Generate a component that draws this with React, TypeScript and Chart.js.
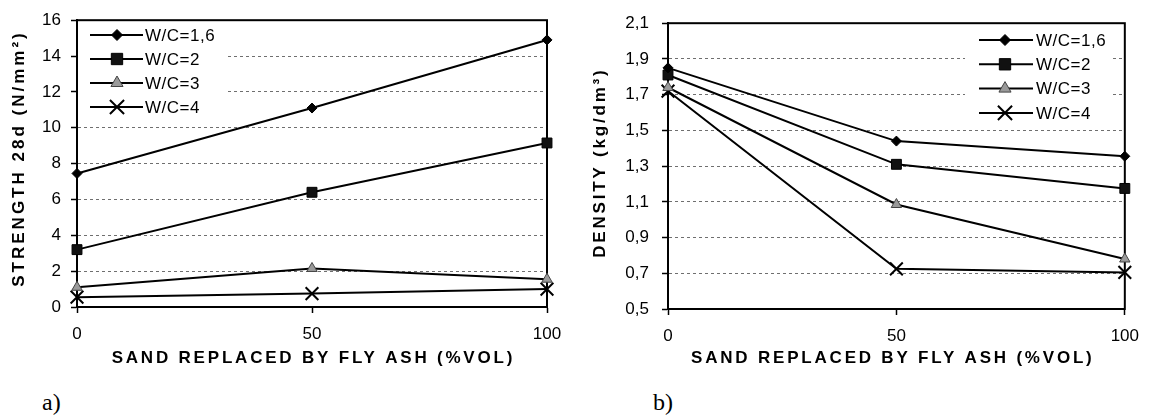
import React, { useEffect, useRef } from 'react';
import { Chart, registerables } from 'chart.js';

Chart.register(...registerables);

// ---------- data ----------
const xValues = [0, 50, 100];
const xTicks = [0, 50, 100];
const seriesLabels = ['W/C=1,6', 'W/C=2', 'W/C=3', 'W/C=4'];

const strength16 = [7.45, 11.1, 14.9];
const strength2 = [3.2, 6.4, 9.15];
const strength3 = [1.1, 2.15, 1.55];
const strength4 = [0.55, 0.75, 1.0];
const strengthTicks = [0, 2, 4, 6, 8, 10, 12, 14, 16];

const density16 = [1.85, 1.44, 1.355];
const density2 = [1.81, 1.31, 1.175];
const density3 = [1.74, 1.085, 0.78];
const density4 = [1.72, 0.725, 0.705];
const densityTicks = [0.5, 0.7, 0.9, 1.1, 1.3, 1.5, 1.7, 1.9, 2.1];

const xTitle = 'SAND REPLACED BY FLY ASH (%VOL)';
const strengthTitle = 'STRENGTH 28d (N/mm²)';
const densityTitle = 'DENSITY (kg/dm³)';

// ---------- styles ----------
const FONT = '"Liberation Sans", Arial, sans-serif';
const markerStyles = ['rectRot', 'rect', 'triangle', 'crossRot'];
const markerRadius = [5, 7, 6, 9];
const legendMarkerRadius = [5.5, 8, 7, 10];
const markerFill = ['#000', '#111', '#9a9a9a', '#000'];
const markerStroke = ['#000', '#000', '#444', '#000'];
const markerLw = [1, 1, 1, 2];

function drawMarker(ctx: CanvasRenderingContext2D, style: string, x: number, y: number, r: number, fill: string, stroke: string, lw: number) {
  ctx.save();
  ctx.beginPath();
  ctx.fillStyle = fill;
  ctx.strokeStyle = stroke;
  ctx.lineWidth = lw;
  if (style === 'rectRot') {
    ctx.moveTo(x - r, y); ctx.lineTo(x, y - r); ctx.lineTo(x + r, y); ctx.lineTo(x, y + r); ctx.closePath();
    ctx.fill(); ctx.stroke();
  } else if (style === 'rect') {
    const s = r * Math.SQRT1_2;
    ctx.rect(x - s, y - s, 2 * s, 2 * s);
    ctx.fill(); ctx.stroke();
  } else if (style === 'triangle') {
    let a = 0;
    ctx.moveTo(x + Math.sin(a) * r, y - Math.cos(a) * r);
    a += (2 * Math.PI) / 3; ctx.lineTo(x + Math.sin(a) * r, y - Math.cos(a) * r);
    a += (2 * Math.PI) / 3; ctx.lineTo(x + Math.sin(a) * r, y - Math.cos(a) * r);
    ctx.closePath();
    ctx.fill(); ctx.stroke();
  } else {
    const o = r * Math.SQRT1_2;
    ctx.moveTo(x - o, y - o); ctx.lineTo(x + o, y + o);
    ctx.moveTo(x - o, y + o); ctx.lineTo(x + o, y - o);
    ctx.stroke();
  }
  ctx.restore();
}

const framePlugin = {
  id: 'frameLegend',
  beforeDatasetsDraw(chart: any, _args: any, opts: any) {
    const ctx = chart.ctx as CanvasRenderingContext2D;
    const a = chart.chartArea;
    ctx.save();
    ctx.fillStyle = '#fff';
    ctx.fillRect(opts.bgX, opts.bgY, opts.bgW, opts.bgH);
    ctx.strokeStyle = '#000';
    ctx.lineWidth = 2;
    ctx.strokeRect(a.left, a.top, a.right - a.left, a.bottom - a.top);
    ctx.restore();
  },
  afterDatasetsDraw(chart: any, _args: any, opts: any) {
    const ctx = chart.ctx as CanvasRenderingContext2D;
    chart.data.datasets.forEach((ds: any, i: number) => {
      const y = opts.y0 + i * opts.dy;
      ctx.save();
      ctx.strokeStyle = '#000';
      ctx.lineWidth = 2;
      ctx.beginPath();
      ctx.moveTo(opts.x1, y);
      ctx.lineTo(opts.x2, y);
      ctx.stroke();
      ctx.restore();
      drawMarker(ctx, markerStyles[i], opts.mx, y, legendMarkerRadius[i], markerFill[i], markerStroke[i], markerLw[i]);
      ctx.save();
      ctx.fillStyle = '#000';
      ctx.font = `17px ${FONT}`;
      (ctx as any).letterSpacing = '0.5px';
      ctx.textAlign = 'left';
      ctx.textBaseline = 'middle';
      ctx.fillText(ds.label, opts.tx, y + 1);
      ctx.restore();
    });
  },
};

const titlePlugin = {
  id: 'axisTitles',
  afterDraw(chart: any, _args: any, opts: any) {
    const ctx = chart.ctx as CanvasRenderingContext2D;
    const a = chart.chartArea;
    ctx.save();
    ctx.fillStyle = '#000';
    ctx.font = `bold 17px ${FONT}`;
    ctx.textAlign = 'center';
    ctx.textBaseline = 'middle';
    (ctx as any).letterSpacing = opts.xSpacing + 'px';
    ctx.fillText(opts.xText, (a.left + a.right) / 2 + opts.xSpacing / 2 + opts.xShift, opts.xY);
    (ctx as any).letterSpacing = opts.ySpacing + 'px';
    ctx.translate(opts.yX, opts.yY);
    ctx.rotate(-Math.PI / 2);
    ctx.fillText(opts.yText, opts.ySpacing / 2, 0);
    ctx.restore();
  },
};

type PanelProps = {
  left: number;
  series: number[][];
  yTicks: number[];
  yFormat: (v: number) => string;
  padTop: number;
  padRight: number;
  yAxisWidth: number;
  xAxisHeight: number;
  yPadding: number;
  legend: any;
  titles: any;
};

const W = 575;
const H = 380;

function Panel(p: PanelProps) {
  const ref = useRef<HTMLCanvasElement>(null);
  useEffect(() => {
    const datasets = p.series.map((vals, i) => ({
      label: seriesLabels[i],
      data: xValues.map((x, j) => ({ x, y: vals[j] })),
      borderColor: '#000',
      borderWidth: 2,
      tension: 0,
      fill: false,
      clip: false as any,
      pointStyle: markerStyles[i] as any,
      pointRadius: markerRadius[i],
      pointBackgroundColor: markerFill[i],
      pointBorderColor: markerStroke[i],
      pointBorderWidth: markerLw[i],
    }));
    const chart = new Chart(ref.current as HTMLCanvasElement, {
      type: 'line',
      data: { datasets },
      options: {
        responsive: false,
        animation: false,
        devicePixelRatio: 1,
        layout: { padding: { left: 0, top: p.padTop, right: p.padRight, bottom: 0 } },
        plugins: {
          legend: { display: false },
          tooltip: { enabled: false },
          frameLegend: p.legend,
          axisTitles: p.titles,
        } as any,
        scales: {
          x: {
            type: 'linear',
            min: xTicks[0],
            max: xTicks[xTicks.length - 1],
            afterBuildTicks: (s: any) => { s.ticks = xTicks.map((v) => ({ value: v })); },
            afterFit: (s: any) => { s.height = p.xAxisHeight; },
            ticks: { color: '#000', font: { family: FONT, size: 17 }, padding: 11, maxRotation: 0, callback: (v: any) => String(v) },
            grid: { drawOnChartArea: false, drawTicks: true, tickLength: 6, tickColor: '#000', tickWidth: 1.5 },
            border: { display: true, color: '#000', width: 2 },
          },
          y: {
            type: 'linear',
            min: p.yTicks[0],
            max: p.yTicks[p.yTicks.length - 1],
            afterBuildTicks: (s: any) => { s.ticks = p.yTicks.map((v) => ({ value: v })); },
            afterFit: (s: any) => { s.width = p.yAxisWidth; },
            ticks: { color: '#000', font: { family: FONT, size: 17 }, padding: p.yPadding, callback: (v: any) => p.yFormat(Number(v)) },
            grid: { color: '#6f6f6f', lineWidth: 1, drawTicks: true, tickLength: 6, tickColor: '#000', tickWidth: 1.5 },
            border: { display: true, color: '#000', width: 2, dash: [3, 3] },
          },
        },
      },
      plugins: [framePlugin, titlePlugin],
    });
    return () => chart.destroy();
  }, []);
  return (
    <canvas
      ref={ref}
      width={W}
      height={H}
      style={{ position: 'absolute', left: p.left, top: 0, width: W, height: H }}
    />
  );
}

export default function App() {
  const capStyle: React.CSSProperties = {
    position: 'absolute',
    top: 389,
    fontFamily: '"Liberation Serif", "Times New Roman", serif',
    fontSize: 24,
    lineHeight: '26px',
    color: '#000',
  };
  return (
    <div style={{ position: 'fixed', left: 0, top: 0, width: 1150, height: 417, background: '#fff', overflow: 'hidden' }}>
      <Panel
        left={0}
        series={[strength16, strength2, strength3, strength4]}
        yTicks={strengthTicks}
        yFormat={(v) => String(Math.round(v))}
        padTop={18}
        padRight={28}
        yAxisWidth={77}
        xAxisHeight={H - 307}
        yPadding={10}
        legend={{ bgX: 78, bgY: 20, bgW: 147, bgH: 100, y0: 35, dy: 24, x1: 90, x2: 143, mx: 117, tx: 145 }}
        titles={{ xText: xTitle, xY: 358, xShift: 0, yText: strengthTitle, yX: 19, yY: 160, xSpacing: 2.8, ySpacing: 3 }}
      />
      <Panel
        left={575}
        series={[density16, density2, density3, density4]}
        yTicks={densityTicks}
        yFormat={(v) => v.toFixed(1).replace('.', ',')}
        padTop={19}
        padRight={18}
        yAxisWidth={93}
        xAxisHeight={H - 309}
        yPadding={13}
        legend={{ bgX: 390, bgY: 22, bgW: 147, bgH: 100, y0: 40, dy: 24.3, x1: 404, x2: 458, mx: 430, tx: 461 }}
        titles={{ xText: xTitle, xY: 358, xShift: -5, yText: densityTitle, yX: 25, yY: 164, xSpacing: 2.8, ySpacing: 2.8 }}
      />
      <div style={{ ...capStyle, left: 42 }}>a)</div>
      <div style={{ ...capStyle, left: 653 }}>b)</div>
    </div>
  );
}
